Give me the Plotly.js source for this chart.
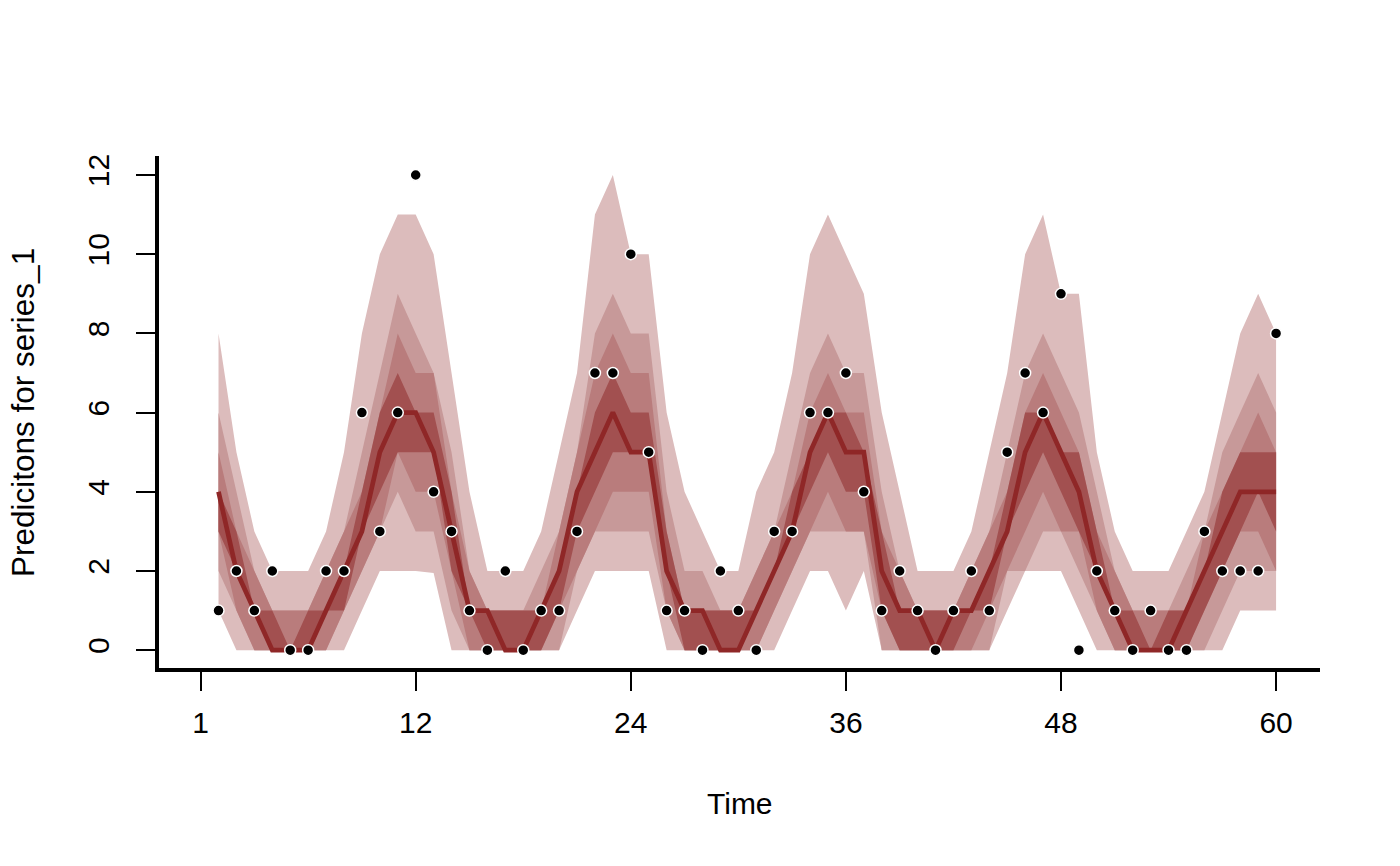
<!DOCTYPE html>
<html>
<head>
<meta charset="utf-8">
<script src="https://cdn.plot.ly/plotly-3.0.1.min.js"></script>
<style>
  html, body { margin: 0; padding: 0; background: #ffffff; }
  #chart { width: 1400px; height: 866px; }
</style>
</head>
<body>
<div id="chart"></div>
<script>
// Time index
const time = [1,2,3,4,5,6,7,8,9,10,11,12,13,14,15,16,17,18,19,20,
              21,22,23,24,25,26,27,28,29,30,31,32,33,34,35,36,37,38,39,40,
              41,42,43,44,45,46,47,48,49,50,51,52,53,54,55,56,57,58,59,60];

// Observed series_1
const obs = [1,2,1,2,0,0,2,2,6,3,6,12,4,3,1,0,2,0,1,1,
             3,7,7,10,5,1,1,0,2,1,0,3,3,6,6,7,4,1,2,1,
             0,1,2,1,5,7,6,9,0,2,1,0,1,0,0,3,2,2,2,8];

// Predictive quantiles
const q10 = [1,0,0,0,0,0,0,0,1,2,2,2,1.95,0,0,0,0,0,0,0,
             1,2,2,2,2,0,0,0,0,0,0,0,1,2,2,1,2,0,0,0,
             0,0,0,0,1,2,2,2,1,0,0,0,0,0,0,0,0,1,1,1];
const q20 = [2,1,0,0,0,0,0,1,2,3,4,3,3,1,0,0,0,0,0,0,
             2,3,3,3,3,1,0,0,0,0,0,1,2,3,3,3,3,0,0,0,
             0,0,0,0,2,2,3,3,2,1,0,0,0,0,0,0,1,2,2,2];
const q30 = [3,1,0,0,0,0,0,1,2,3,5,4,4,2,0,0,0,0,0,1,
             2,3,4,4,4,1,0,0,0,0,0,1,2,3,4,3,3,1,0,0,
             0,0,0,1,2,3,4,3,3,1,0,0,0,0,0,1,2,3,3,2];
const q40 = [3,2,1,0,0,0,1,1,3,4,5,5,5,2,1,0,0,0,0,1,
             3,4,5,5,5,2,0,0,0,0,1,2,3,4,5,4,4,1,0,0,
             0,0,1,1,3,4,5,4,3,2,1,0,0,0,0,1,2,3,4,3];
const med = [4,2,1,0,0,0,1,2,3,5,6,6,5,3,1,1,0,0,1,2,
             4,5,6,5,5,2,1,1,0,0,1,2,3,5,6,5,5,2,1,1,
             0,1,1,2,3,5,6,5,4,2,1,0,0,0,1,2,3,4,4,4];
const q60 = [4,3,1,1,0,1,1,2,4,6,7,6,6,4,1,1,1,1,1,2,
             4,6,7,6,6,3,1,1,1,1,1,2,4,5,6,6,5,3,1,1,
             1,1,1,2,4,6,6,5,5,3,1,1,0,1,1,2,4,5,5,5];
const q70 = [5,3,2,1,1,1,2,3,4,6,8,7,7,4,2,1,1,1,1,3,
             5,7,8,7,7,3,1,1,1,1,2,3,4,6,7,6,6,3,2,1,
             1,1,2,3,4,6,7,6,5,3,2,1,1,1,1,3,4,5,6,5];
const q80 = [6,4,2,1,1,1,2,3,5,7,9,8,7,5,2,1,1,1,2,3,
             5,8,9,8,8,4,2,2,1,1,2,3,5,7,8,7,7,4,2,1,
             1,1,2,3,5,7,8,7,6,4,2,1,1,1,2,3,5,6,7,6];
const q90 = [8,5,3,2,2,2,3,5,8,10,11,11,10,7,4,2,2,2,3,5,
             7,11,12,10,10,6,4,3,2,2,4,5,7,10,11,10,9,6,4,2,
             2,2,3,5,7,10,11,9,9,5,3,2,2,2,3,4,6,8,9,8];

// Style (not data)
const cLight = '#DCBCBC', cLightHi = '#C79999', cMid = '#B97C7C', cMidHi = '#A25050', cDark = '#8F2727';
const FONT = 'Liberation Sans, Arial, Helvetica, sans-serif';

function band(lo, hi, color) {
  return {
    type: 'scatter',
    x: time.concat(time.slice().reverse()),
    y: hi.concat(lo.slice().reverse()),
    mode: 'none',
    fill: 'toself',
    fillcolor: color,
    hoverinfo: 'skip',
    showlegend: false
  };
}

const traces = [
  band(q10, q90, cLight),
  band(q20, q80, cLightHi),
  band(q30, q70, cMid),
  band(q40, q60, cMidHi),
  {
    type: 'scatter', x: time, y: med, mode: 'lines',
    line: { color: cDark, width: 4.7 },
    hoverinfo: 'skip', showlegend: false
  },
  {
    type: 'scatter', x: time, y: obs, mode: 'markers',
    marker: { color: '#000000', size: 11, line: { color: '#ffffff', width: 1.5 } },
    hoverinfo: 'skip', showlegend: false
  }
];

const layout = {
  width: 1400, height: 866,
  paper_bgcolor: '#ffffff', plot_bgcolor: '#ffffff',
  margin: { l: 159, r: 80, t: 156, b: 198 },
  font: { family: FONT, size: 30, color: '#000000' },
  showlegend: false,
  xaxis: {
    range: [-2.32, 62.45],
    tickmode: 'array',
    tickvals: [0, 12, 24, 36, 48, 60],
    ticktext: ['1', '12', '24', '36', '48', '60'],
    ticks: 'outside', ticklen: 19, tickwidth: 2, tickcolor: '#000000',
    showline: true, linewidth: 4, linecolor: '#000000',
    showgrid: false, zeroline: false,
    tickfont: { family: FONT, size: 30, color: '#000000' },
    ticklabelstandoff: 6
  },
  yaxis: {
    range: [-0.45, 12.48],
    tickmode: 'array',
    tickvals: [0, 2, 4, 6, 8, 10, 12],
    ticktext: ['0', '2', '4', '6', '8', '10', '12'],
    tickangle: -90,
    ticks: 'outside', ticklen: 19, tickwidth: 2, tickcolor: '#000000',
    showline: true, linewidth: 4, linecolor: '#000000',
    showgrid: false, zeroline: false,
    tickfont: { family: FONT, size: 30, color: '#000000' },
    ticklabelstandoff: 15
  },
  annotations: [
    {
      text: 'Time', xref: 'paper', yref: 'paper',
      x: 0.5, y: (668 - 803) / 512, xanchor: 'center', yanchor: 'middle',
      showarrow: false, font: { family: FONT, size: 30, color: '#000000' }
    },
    {
      text: 'Predicitons for series_1', xref: 'paper', yref: 'paper',
      x: (23 - 159) / 1161, y: (668 - 413) / 512, xanchor: 'center', yanchor: 'middle',
      textangle: -90,
      showarrow: false, font: { family: FONT, size: 31.5, color: '#000000' }
    }
  ]
};

Plotly.newPlot('chart', traces, layout, { displayModeBar: false, staticPlot: true });
</script>
</body>
</html>
